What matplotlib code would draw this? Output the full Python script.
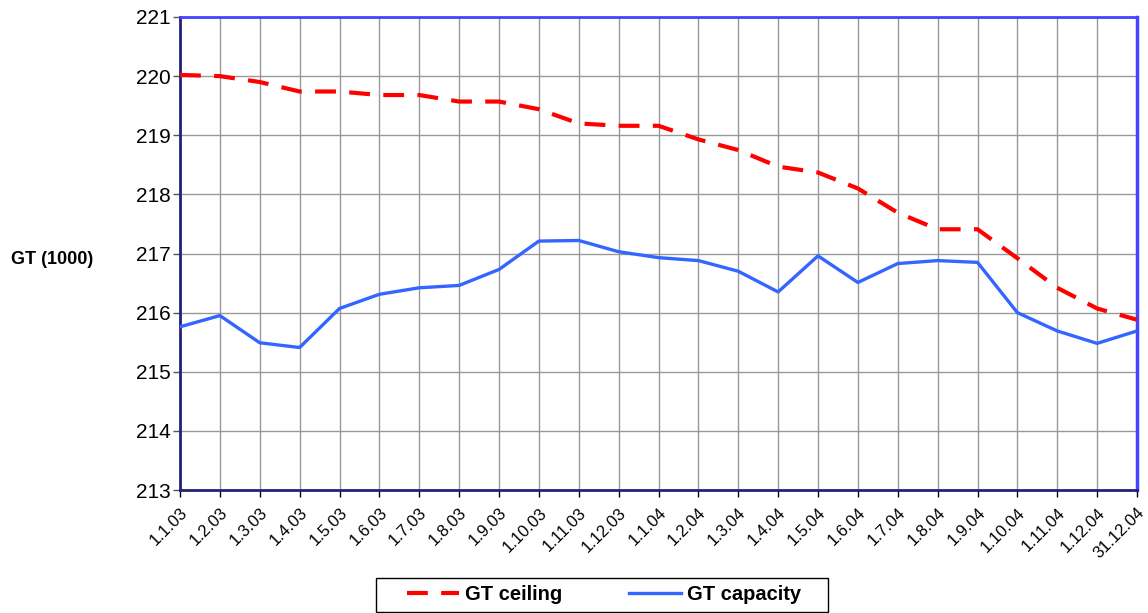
import matplotlib
matplotlib.use("Agg")
import matplotlib.pyplot as plt
from matplotlib.patches import Rectangle

dates = ["1.1.03", "1.2.03", "1.3.03", "1.4.03", "1.5.03", "1.6.03", "1.7.03",
         "1.8.03", "1.9.03", "1.10.03", "1.11.03", "1.12.03", "1.1.04", "1.2.04",
         "1.3.04", "1.4.04", "1.5.04", "1.6.04", "1.7.04", "1.8.04", "1.9.04",
         "1.10.04", "1.11.04", "1.12.04", "31.12.04"]
gt_ceiling = [220.02, 220.00, 219.90, 219.74, 219.74, 219.68, 219.68, 219.57,
              219.57, 219.44, 219.20, 219.16, 219.16, 218.93, 218.75, 218.47,
              218.37, 218.10, 217.69, 217.41, 217.41, 216.92, 216.42, 216.07,
              215.88]
gt_capacity = [215.76, 215.95, 215.49, 215.41, 216.07, 216.31, 216.42, 216.46,
               216.73, 217.21, 217.22, 217.03, 216.93, 216.88, 216.70, 216.35,
               216.96, 216.51, 216.83, 216.88, 216.85, 216.00, 215.69, 215.48,
               215.69]
y_ticks = [213, 214, 215, 216, 217, 218, 219, 220, 221]

plt.rcParams['font.family'] = ['Liberation Sans', 'DejaVu Sans']

W, H = 1148, 613
fig = plt.figure(figsize=(W/100, H/100), dpi=100)
ax = fig.add_axes([180/W, 1-490/H, (1137-180)/W, (490-17)/H])

x = list(range(len(dates)))
ax.plot(x, gt_ceiling, color='#ff0000', lw=3, dashes=(5, 3.2), label='GT ceiling', zorder=3)
ax.plot(x, gt_capacity, color='#3366ff', lw=2.4, label='GT capacity', zorder=3)

ax.set_xlim(0, len(dates)-1)
ax.set_ylim(213, 221)
ax.set_yticks(y_ticks)
ax.set_yticklabels([str(v) for v in y_ticks], fontsize=15)
ax.set_xticks(x)
ax.set_xticklabels(dates, rotation=45, ha='right', va='top', rotation_mode='anchor', fontsize=12)
ax.tick_params(axis='x', length=5, width=1, color='black', pad=6)
ax.tick_params(axis='y', length=5, width=1, color='#555555', pad=2)

ax.grid(True, color='#999999', lw=1)
ax.set_axisbelow(True)

ax.spines['left'].set_color('#22227a')
ax.spines['bottom'].set_color('#22227a')
ax.spines['left'].set_linewidth(2)
ax.spines['bottom'].set_linewidth(2)
ax.spines['top'].set_color('#4444ff')
ax.spines['right'].set_color('#4444ff')
ax.spines['top'].set_linewidth(2)
ax.spines['right'].set_linewidth(2.5)

fig.text(52/W, 1-260/H, 'GT (1000)', fontsize=13, fontweight='bold',
         ha='center', va='center')

# legend frame
fig.patches.append(Rectangle((376/W, 1-612/H), (828-376)/W, (612-578)/H,
                             transform=fig.transFigure, fill=False,
                             edgecolor='black', lw=1))
leg = fig.legend(loc='center', bbox_to_anchor=(604/W, 1-595/H), ncol=2,
                 prop={'size': 14.5, 'weight': 'bold'}, frameon=False,
                 handlelength=2.6, columnspacing=3.3,
                 borderpad=0.2, handletextpad=0.3, borderaxespad=0)

fig.savefig('out.png', dpi=100)
